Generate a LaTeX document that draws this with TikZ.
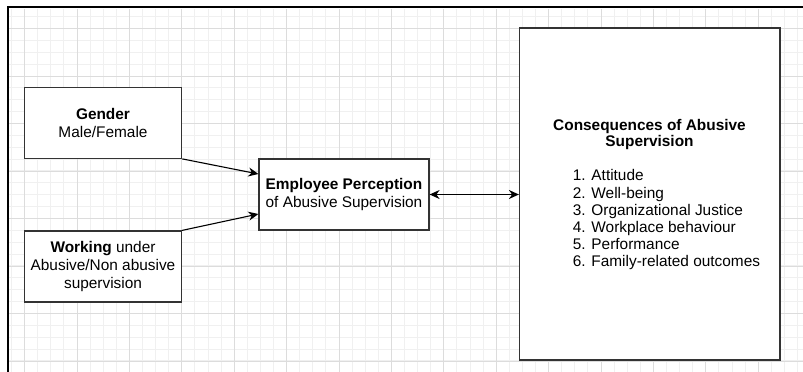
\documentclass[tikz,border=0pt]{standalone}
\usepackage{fontspec}
\setmainfont{Liberation Sans}
\usetikzlibrary{arrows.meta}
\definecolor{minorgrid}{HTML}{F0F0F0}
\definecolor{majorgrid}{HTML}{DCDCDC}
\definecolor{boxline}{HTML}{333333}
\begin{document}
\begin{tikzpicture}[x=1pt,y=-1pt,
  box/.style={draw=boxline,line width=1.2pt,fill=white,inner sep=0pt,align=center,
    font=\fontsize{15.4}{17.6}\selectfont},
  plain/.style={inner sep=0pt,font=\fontsize{15.4}{17.2}\selectfont},
  conn/.style={draw=black,line width=1.1pt,-{Stealth[length=10pt,width=9pt]}},
  dconn/.style={draw=black,line width=1.1pt,{Stealth[length=10pt,width=9pt]}-{Stealth[length=10pt,width=9pt]}}]
\useasboundingbox (0,0) rectangle (803,372);
\fill[white] (0,0) rectangle (803,372);
% grid
\begin{scope}
\clip (9,9) rectangle (803,372);
\foreach \i in {0,...,61} \draw[minorgrid, line width=0.9pt] ({11.5+13.1*\i},0) -- ({11.5+13.1*\i},372);
\foreach \i in {0,...,31} \draw[minorgrid, line width=0.9pt] (0,{16.6+11.87*\i}) -- (803,{16.6+11.87*\i});
\foreach \i in {0,...,15} \draw[majorgrid, line width=0.9pt] ({24.6+52.4*\i},0) -- ({24.6+52.4*\i},372);
\foreach \i in {0,...,7} \draw[majorgrid, line width=0.9pt] (0,{28.5+47.5*\i}) -- (803,{28.5+47.5*\i});
\end{scope}
% frame
\draw[line width=2pt] (8.3,372) -- (8.3,7.3) -- (803,7.3);
% boxes
\node[box,minimum width=157.4pt,minimum height=70.6pt] (g) at (103,123)
  {\textbf{Gender}\\Male/Female};
\node[box,minimum width=157pt,minimum height=71pt] (w) at (103,266.5)
  {\textbf{Working} under\\Abusive/Non abusive\\supervision};
\node[box,minimum width=170pt,minimum height=71pt] (e) at (344,194.5)
  {\textbf{Employee Perception}\\of Abusive Supervision};
\node[box,minimum width=260.5pt,minimum height=332pt] (c) at (649.75,194) {};
\node[plain,align=center,font=\fontsize{15.4}{16.7}\selectfont\bfseries] (ct) at (649.5,134.4)
  {Consequences of Abusive\\Supervision};
\node[plain,align=left,anchor=west] (cl) at (572.7,220)
  {1. Attitude\\2. Well-being\\3. Organizational Justice\\4. Workplace behaviour\\5. Performance\\6. Family-related outcomes};
% connectors
\draw[conn] (g.south east) -- ([yshift=20.5pt]e.west);
\draw[conn] (w.north east) -- ([yshift=-19.5pt]e.west);
\draw[dconn] (e.east) -- (c.west |- e.east);
\end{tikzpicture}
\end{document}
